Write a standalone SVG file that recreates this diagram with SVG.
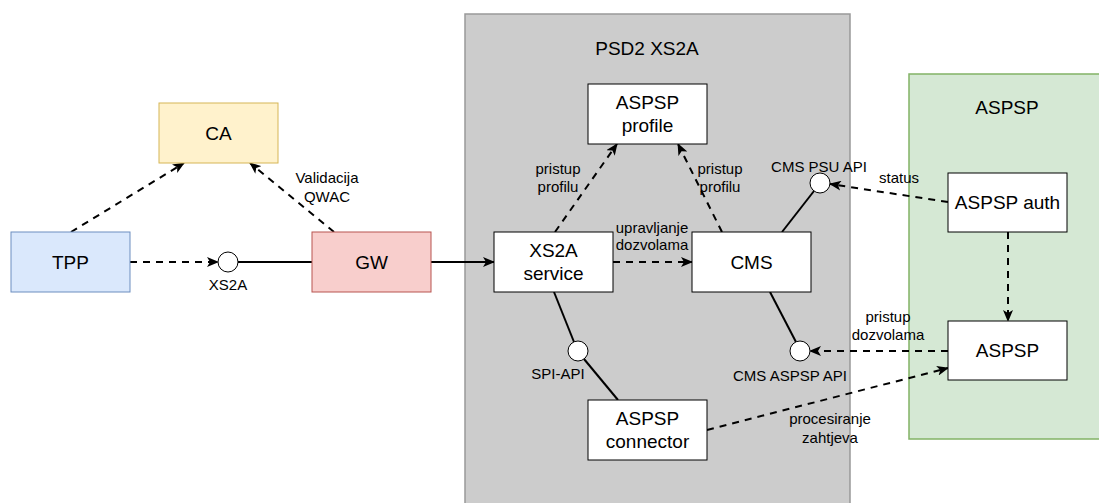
<svg xmlns="http://www.w3.org/2000/svg" width="1099" height="503" viewBox="0 0 1099 503">
<defs>
<style>
text{font-family:"Liberation Sans",Arial,sans-serif;fill:#000;text-anchor:middle;dominant-baseline:central}
.n{font-size:19px}
.l{font-size:15px}
.box{fill:#fff;stroke:#000;stroke-width:1}
.c{fill:none;stroke:#000;stroke-width:2}
.d{stroke-dasharray:7 6}
.ic{fill:#fff;stroke:#000;stroke-width:1}
</style>
<marker id="ah" viewBox="0 0 12 10" refX="11" refY="5" markerWidth="12" markerHeight="10" markerUnits="userSpaceOnUse" orient="auto">
<path d="M0,0 L12,5 L0,10 L3,5 Z" fill="#000"/>
</marker>
</defs>
<g id="psd2-container">
<rect x="465" y="14" width="385" height="495" fill="#cccccc" stroke="#999999" stroke-width="1.5"/>
<text class="n" x="647" y="48">PSD2 XS2A</text>
</g>
<g id="aspsp-container">
<rect x="909" y="74" width="195" height="365" fill="#d5e8d4" stroke="#82b366" stroke-width="1.5"/>
<text class="n" x="1007" y="107">ASPSP</text>
</g>
<g id="connectors">
<line class="c d" x1="71" y1="232" x2="184" y2="163" marker-end="url(#ah)"/>
<line class="c d" x1="334" y1="232" x2="250" y2="163" marker-end="url(#ah)"/>
<line class="c d" x1="130" y1="262" x2="218" y2="262" marker-end="url(#ah)"/>
<line class="c" x1="238" y1="262" x2="312" y2="262"/>
<line class="c" x1="431" y1="262" x2="494" y2="262" marker-end="url(#ah)"/>
<line class="c d" x1="613" y1="262" x2="692" y2="262" marker-end="url(#ah)"/>
<line class="c d" x1="555" y1="232" x2="617" y2="144" marker-end="url(#ah)"/>
<line class="c d" x1="722" y1="232" x2="678" y2="144" marker-end="url(#ah)"/>
<line class="c" x1="782" y1="232" x2="814" y2="191"/>
<line class="c d" x1="948" y1="202" x2="830" y2="184" marker-end="url(#ah)"/>
<line class="c d" x1="1008" y1="232" x2="1008" y2="321" marker-end="url(#ah)"/>
<line class="c d" x1="948" y1="351" x2="810" y2="351" marker-end="url(#ah)"/>
<line class="c" x1="554" y1="292" x2="574" y2="342"/>
<line class="c" x1="584" y1="359" x2="618" y2="400"/>
<line class="c" x1="770" y1="292" x2="796" y2="342"/>
<line class="c d" x1="707" y1="430" x2="948" y2="368" marker-end="url(#ah)"/>
<text class="l" x="327" y="177">Validacija</text>
<text class="l" x="327" y="196">QWAC</text>
<text class="l" x="558" y="168">pristup</text>
<text class="l" x="558" y="186">profilu</text>
<text class="l" x="720" y="168">pristup</text>
<text class="l" x="720" y="186">profilu</text>
<text class="l" x="652" y="227">upravljanje</text>
<text class="l" x="652" y="244">dozvolama</text>
<text class="l" x="899" y="177">status</text>
<text class="l" x="888" y="316">pristup</text>
<text class="l" x="888" y="334">dozvolama</text>
<text class="l" x="830" y="418">procesiranje</text>
<text class="l" x="830" y="437">zahtjeva</text>
</g>
<g id="if-xs2a"><circle class="ic" cx="228" cy="262" r="10"/><text class="l" x="228" y="284">XS2A</text></g>
<g id="if-cms-psu"><circle class="ic" cx="820" cy="183" r="10"/><text class="l" x="819" y="166">CMS PSU API</text></g>
<g id="if-spi"><circle class="ic" cx="578" cy="351" r="10"/><text class="l" x="558" y="373">SPI-API</text></g>
<g id="if-cms-aspsp"><circle class="ic" cx="800" cy="351" r="10"/><text class="l" x="790" y="375">CMS ASPSP API</text></g>
<g id="tpp"><rect x="11" y="232" width="119" height="60" fill="#dae8fc" stroke="#6c8ebf"/><text class="n" x="70.5" y="262">TPP</text></g>
<g id="ca"><rect x="159" y="103" width="119" height="60" fill="#fff2cc" stroke="#d6b656"/><text class="n" x="218.5" y="133">CA</text></g>
<g id="gw"><rect x="312" y="232" width="119" height="60" fill="#f8cecc" stroke="#b85450"/><text class="n" x="371.5" y="262">GW</text></g>
<g id="xs2a-service"><rect class="box" x="494" y="232" width="119" height="60"/><text class="n" x="553.5" y="250.5">XS2A</text><text class="n" x="553.5" y="273.5">service</text></g>
<g id="cms"><rect class="box" x="692" y="232" width="119" height="60"/><text class="n" x="751.5" y="262">CMS</text></g>
<g id="aspsp-profile"><rect class="box" x="588" y="84" width="119" height="60"/><text class="n" x="647.5" y="102.5">ASPSP</text><text class="n" x="647.5" y="125.5">profile</text></g>
<g id="aspsp-connector"><rect class="box" x="588" y="400" width="119" height="60"/><text class="n" x="647.5" y="418.5">ASPSP</text><text class="n" x="647.5" y="441.5">connector</text></g>
<g id="aspsp-auth"><rect class="box" x="948" y="173" width="119" height="59"/><text class="n" x="1007.5" y="202.5">ASPSP auth</text></g>
<g id="aspsp"><rect class="box" x="948" y="321" width="119" height="59"/><text class="n" x="1007.5" y="350.5">ASPSP</text></g>
</svg>
